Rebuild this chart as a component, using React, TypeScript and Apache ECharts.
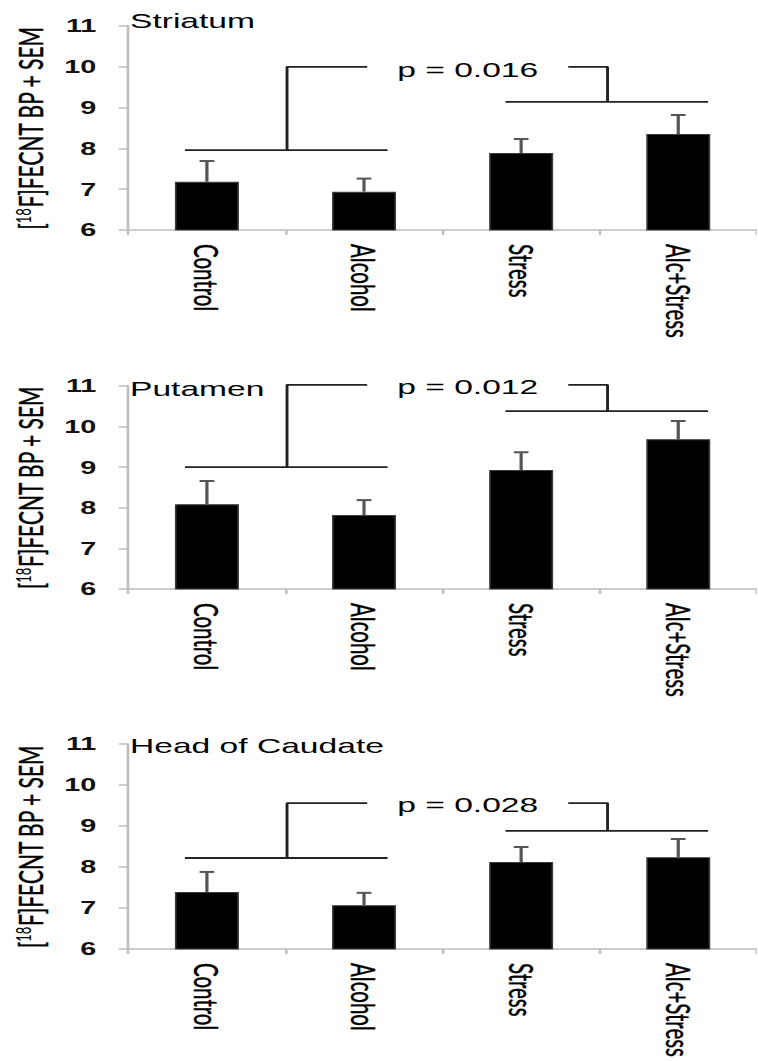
import React, { useEffect, useRef } from "react";
import * as echarts from "echarts";

// ---------- data ----------
const categories = ["Control", "Alcohol", "Stress", "Alc+Stress"];
const regions = ["Striatum", "Putamen", "Head of Caudate"];

const striatumMean = [7.18, 6.94, 7.89, 8.35];
const striatumSem = [0.51, 0.32, 0.34, 0.47];
const putamenMean = [8.09, 7.82, 8.93, 9.69];
const putamenSem = [0.57, 0.37, 0.44, 0.45];
const caudateMean = [7.39, 7.07, 8.12, 8.24];
const caudateSem = [0.49, 0.30, 0.37, 0.44];

const pValues = ["p = 0.016", "p = 0.012", "p = 0.028"];
// bracket levels (y values) for each region
const bracketLow = [7.96, 9.0, 8.22];
const bracketTop = [10.0, 11.03, 9.56];
const bracketRight = [9.14, 10.38, 8.88];
const pLabelY = [9.93, 10.99, 9.51];
// bracket spans in category units (0 = Control ... 3 = Alc+Stress)
const leftSpan = [-0.14, 1.15];
const leftStem = 0.51;
const leftArmEnd = 1.02;
const rightSpan = [1.9, 3.19];
const rightStem = 2.55;
const rightArmStart = 2.3;
const pLabelX = 1.66;

const yMin = 6;
const yMax = 11;
const yStep = 1;

const means = [striatumMean, putamenMean, caudateMean];
const sems = [striatumSem, putamenSem, caudateSem];

// ---------- layout (reference image is stretched horizontally) ----------
const S = 1.6;
const W = 473;
const px = (x: number) => x / S;
const panels = [
  { top: 26, height: 204, width: px(636), title: 22 },
  { top: 386, height: 203, width: px(636), title: 390 },
  { top: 744, height: 205, width: px(644), title: 747 },
];

export default function App() {
  const ref = useRef<HTMLDivElement>(null);

  useEffect(() => {
    if (!ref.current) return;
    const chart = echarts.init(ref.current, undefined, { renderer: "svg" });

    const grids: any[] = [];
    const xAxes: any[] = [];
    const yAxes: any[] = [];
    const series: any[] = [];
    const titles: any[] = [];

    panels.forEach((p, i) => {
      grids.push({ left: px(124), top: p.top, width: p.width, height: p.height, containLabel: false });
      xAxes.push({
        type: "category",
        gridIndex: i,
        data: categories,
        axisLine: { show: true, onZero: false, lineStyle: { color: "#bdbdbd", width: 1.6 } },
        axisTick: { show: true, length: 5, lineStyle: { color: "#bdbdbd", width: 1.5 } },
        axisLabel: {
          rotate: -90,
          interval: 0,
          margin: 14,
          fontFamily: "Lato",
          fontSize: 20.5,
          color: "#000",
          textBorderColor: "#000",
          textBorderWidth: 0.3,
        },
      });
      xAxes.push({
        type: "value",
        gridIndex: i,
        min: -0.5,
        max: 3.5,
        show: false,
        axisLine: { onZero: false },
      });
      yAxes.push({
        type: "value",
        gridIndex: i,
        min: yMin,
        max: yMax,
        interval: yStep,
        splitLine: { show: false },
        axisLine: { show: true, onZero: false, lineStyle: { color: "#bdbdbd", width: 1.6 } },
        axisTick: { show: true, length: 6, lineStyle: { color: "#bdbdbd", width: 1.5 } },
        axisLabel: {
          margin: 20,
          fontFamily: "Liberation Sans",
          fontWeight: "bold",
          fontSize: 18,
          color: "#111",
        },
        name: "{n|[}{s|18}{n|F]FECNT BP + SEM}",
        nameLocation: "middle",
        nameRotate: 90,
        nameGap: 46,
        nameTextStyle: {
          fontFamily: "Lato",
          fontSize: 21,
          color: "#000",
          rich: {
            n: { fontFamily: "Lato", fontSize: 21, color: "#000", textBorderColor: "#000", textBorderWidth: 0.3 },
            s: { fontFamily: "Lato", fontSize: 13, color: "#000", verticalAlign: "top" },
          },
        },
      });
      titles.push({
        text: regions[i],
        left: px(130),
        top: p.title - 12,
        padding: 0,
        textStyle: { fontFamily: "Liberation Sans", fontSize: 21, fontWeight: "normal", color: "#000" },
      });

      const m = means[i];
      const s = sems[i];
      series.push({
        type: "bar",
        xAxisIndex: i * 2,
        yAxisIndex: i,
        data: m,
        barWidth: 40,
        itemStyle: { color: "#000", borderColor: "#3c3c3c", borderWidth: 1 },
        silent: true,
      });
      series.push({
        type: "custom",
        xAxisIndex: i * 2,
        yAxisIndex: i,
        data: m.map((v, k) => [k, v, v + s[k]]),
        encode: { x: 0, y: [1, 2] },
        z: 5,
        silent: true,
        renderItem: (params: any, api: any) => {
          const xi = api.value(0);
          const p0 = api.coord([xi, api.value(1)]);
          const p1 = api.coord([xi, api.value(2)]);
          const style = { stroke: "#555", lineWidth: 2 };
          return {
            type: "group",
            children: [
              { type: "line", shape: { x1: p0[0], y1: p0[1], x2: p1[0], y2: p1[1] }, style },
              { type: "line", shape: { x1: p1[0] - 4.6, y1: p1[1], x2: p1[0] + 4.6, y2: p1[1] }, style },
            ],
          };
        },
      });
      const brackets = [
        [[leftSpan[0], bracketLow[i]], [leftSpan[1], bracketLow[i]]],
        [[leftArmEnd, bracketTop[i]], [leftStem, bracketTop[i]], [leftStem, bracketLow[i]]],
        [[rightSpan[0], bracketRight[i]], [rightSpan[1], bracketRight[i]]],
        [[rightArmStart, bracketTop[i]], [rightStem, bracketTop[i]], [rightStem, bracketRight[i]]],
      ];
      brackets.forEach((b) => {
        series.push({
          type: "line",
          xAxisIndex: i * 2 + 1,
          yAxisIndex: i,
          data: b,
          symbol: "none",
          clip: false,
          silent: true,
          lineStyle: { color: "#222", width: 1.8 },
          z: 4,
        });
      });
      const pText = pValues[i];
      series.push({
        type: "custom",
        xAxisIndex: i * 2 + 1,
        yAxisIndex: i,
        data: [[pLabelX, pLabelY[i]]],
        clip: false,
        silent: true,
        z: 6,
        renderItem: (params: any, api: any) => {
          const c = api.coord([api.value(0), api.value(1)]);
          return {
            type: "text",
            x: c[0],
            y: c[1],
            style: {
              text: pText,
              fill: "#000",
              font: "21px 'Liberation Sans'",
              align: "center",
              verticalAlign: "middle",
            },
          };
        },
      });
    });

    chart.setOption({
      animation: false,
      backgroundColor: "#fff",
      title: titles,
      grid: grids,
      xAxis: xAxes,
      yAxis: yAxes,
      series,
    });

    return () => chart.dispose();
  }, []);

  return (
    <div style={{ position: "absolute", left: 0, top: 0, width: 758, height: 1061, overflow: "hidden", background: "#fff" }}>
      <div
        ref={ref}
        style={{
          position: "absolute",
          left: 0,
          top: 0,
          width: W,
          height: 1061,
          transform: `scaleX(${S})`,
          transformOrigin: "0 0",
        }}
      />
    </div>
  );
}
